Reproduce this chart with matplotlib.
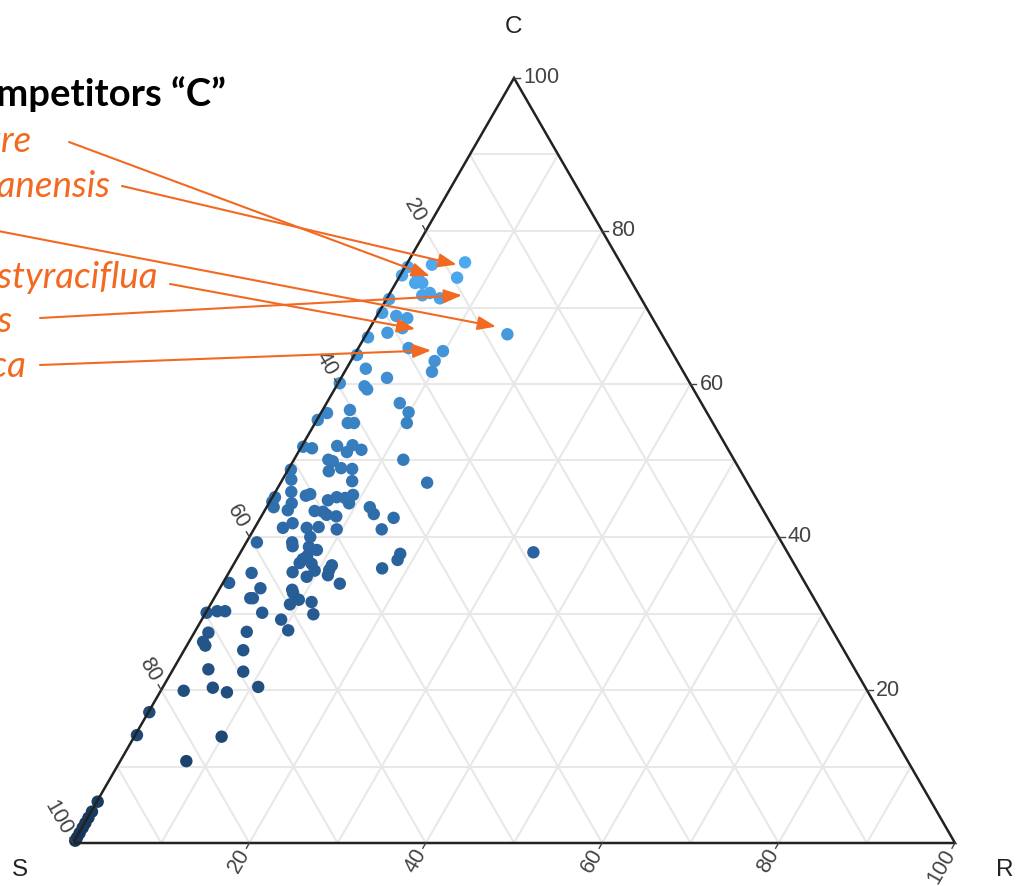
import numpy as np
import matplotlib
matplotlib.use("Agg")
import matplotlib.pyplot as plt
from matplotlib.colors import LinearSegmentedColormap

# ---------------- data (percent) ----------------
C_vals = [75.9, 75.6, 73.9, 75.3, 74.2, 73.2, 73.2, 74.0, 71.6, 71.9, 71.2, 71.1, 66.5,
          68.9, 68.6, 69.3, 66.7, 66.1, 67.3, 64.7, 64.3, 63.0, 61.6, 63.8, 62.0, 60.8,
          60.1, 59.7, 59.3, 56.6, 57.5, 56.3, 54.9, 56.2, 55.3, 54.9, 54.9, 51.9, 51.6,
          51.8, 52.0, 51.1, 51.4, 50.1, 50.1, 49.9, 49.0, 48.9, 48.6, 48.8, 47.1, 47.5,
          47.3, 45.9, 45.4, 45.6, 45.2, 44.6, 43.9, 44.4, 43.5, 44.8, 45.2, 45.1, 44.4,
          45.5, 43.4, 43.3, 42.9, 42.7, 43.9, 43.0, 42.5, 41.0, 41.2, 41.8, 41.2, 41.3,
          41.0, 39.3, 39.3, 38.8, 40.0, 38.7, 38.3, 37.1, 37.5, 36.6, 36.5, 35.4, 35.6,
          36.3, 35.7, 35.0, 34.8, 33.9, 35.9, 37.8, 37.0, 38.0, 35.3, 33.3, 33.1, 32.7,
          31.8, 31.5, 31.2, 32.0, 32.0, 30.1, 29.9, 29.2, 27.8, 34.0, 30.3, 30.3, 30.1,
          27.5, 26.3, 25.8, 27.6, 25.2, 22.7, 22.4, 19.9, 20.3, 19.7, 20.4, 17.1, 14.1,
          13.9, 10.7, 5.4, 4.1, 3.3, 2.6, 2.0, 1.3, 0.7, 0.3]
R_vals = [6.5, 2.9, 6.6, 0.3, 0.2, 2.2, 3.0, 2.1, 3.8, 4.5, 6.0, 0.3, 16.0,
          2.2, 3.6, 0.4, 2.3, 0.4, 3.7, 5.7, 9.8, 9.5, 9.9, 0.3, 2.2, 5.2,
          0.2, 3.2, 3.7, 3.1, 8.3, 9.9, 10.4, 0.7, 0.1, 3.7, 4.4, 4.0, 1.3,
          0.2, 5.7, 5.5, 7.0, 12.4, 3.9, 4.5, 5.9, 7.2, 4.7, 0.3, 16.6, 1.0,
          8.0, 1.8, 3.7, 4.1, 0.3, 0.3, 0.8, 2.6, 2.6, 6.5, 7.3, 8.3, 9.1,
          9.0, 5.7, 6.7, 7.3, 8.5, 11.7, 12.6, 15.1, 14.5, 3.2, 4.0, 5.9, 7.2,
          9.4, 1.2, 5.2, 5.5, 6.9, 7.4, 8.5, 7.5, 7.8, 7.4, 8.8, 7.2, 9.6,
          11.2, 11.2, 11.4, 9.1, 13.3, 17.1, 18.2, 18.3, 33.2, 2.6, 4.6, 8.3, 8.6,
          9.7, 11.3, 9.0, 4.1, 4.4, 6.4, 12.3, 9.0, 10.5, 0.7, 1.2, 2.1, 0.1,
          1.6, 1.6, 2.1, 5.9, 6.7, 4.0, 8.1, 2.6, 5.7, 7.6, 10.8, 0.1, 0.2,
          9.9, 7.5, 0.1, 0.1, 0.1, 0.1, 0.1, 0.1, 0.1, 0.1]

tick_values = [20, 40, 60, 80, 100]
grid_values = [10, 20, 30, 40, 50, 60, 70, 80, 90]
axis_titles = ["C", "S", "R"]

title_text = "Competitors \u201cC\u201d"
species_labels = ["Acer campestre", "Pinus yunnanensis", "Liquidambar styraciflua",
                  "Quercus palustris", "Fagus sylvatica"]
# arrow targets (C %, R %)
arrow_C = [74.1, 75.6, 67.5, 67.2, 71.6, 64.4]
arrow_R = [3.4, 5.7, 14.2, 5.2, 8.3, 8.4]

# ---------------- helpers ----------------
SQ = np.sqrt(3) / 2


def tern(C, R):
    C = np.asarray(C, float) / 100.0
    R = np.asarray(R, float) / 100.0
    return R + C / 2.0, C * SQ


W, H = 1018, 886
fig = plt.figure(figsize=(W / 100, H / 100), dpi=100)
fig.patch.set_facecolor("white")
ax = fig.add_axes([73 / W, (H - 843) / H, 882 / W, 765 / H])
ax.set_xlim(0, 1)
ax.set_ylim(0, SQ)
ax.axis("off")

grid_col = "#e8e8e8"
for v in grid_values:
    x0, y0 = tern(v, 0); x1, y1 = tern(v, 100 - v)
    ax.plot([x0, x1], [y0, y1], color=grid_col, lw=1.5, zorder=1)
    x0, y0 = tern(0, 100 - v); x1, y1 = tern(100 - v, 0)
    ax.plot([x0, x1], [y0, y1], color=grid_col, lw=1.5, zorder=1)
    x0, y0 = tern(0, v); x1, y1 = tern(100 - v, v)
    ax.plot([x0, x1], [y0, y1], color=grid_col, lw=1.5, zorder=1)

# triangle
ax.plot([0, 1, 0.5, 0], [0, 0, SQ, 0], color="#222222", lw=1.8, zorder=4,
        solid_joinstyle="miter", clip_on=False)

px = 1 / 882.0
tick_len = 6 * px
lab_off = 9 * px
tick_col = "#444444"
tfont = dict(family="Liberation Sans", size=15.5, color="#444444")
for v in tick_values:
    x, y = tern(v, 100 - v)
    ax.plot([x, x + tick_len], [y, y], color=tick_col, lw=1, clip_on=False, zorder=4)
    ax.text(x + lab_off, y, str(v), ha="left", va="center", fontdict=tfont, clip_on=False)
    x, y = tern(100 - v, 0)
    d = np.array([-0.5, SQ])
    ax.plot([x, x + d[0] * tick_len], [y, y + d[1] * tick_len], color=tick_col, lw=1,
            clip_on=False, zorder=4)
    ax.text(x + d[0] * (lab_off + 2 * px), y + d[1] * (lab_off + 2 * px), str(v),
            ha="right", va="center", rotation=-60, rotation_mode="anchor",
            fontdict=tfont, clip_on=False)
    x, y = tern(0, v)
    d = np.array([-0.5, -SQ])
    ax.plot([x, x + d[0] * tick_len], [y, y + d[1] * tick_len], color=tick_col, lw=1,
            clip_on=False, zorder=4)
    ax.text(x + d[0] * lab_off, y + d[1] * lab_off, str(v), ha="right", va="center",
            rotation=60, rotation_mode="anchor", fontdict=tfont, clip_on=False)

afont = dict(family="Liberation Sans", size=17.5, color="#222222")
fig.text(513 / W, 1 - 27 / H, axis_titles[0], ha="center", va="center", fontdict=afont)
fig.text(20 / W, 1 - 870 / H, axis_titles[1], ha="center", va="center", fontdict=afont)
fig.text(1005 / W, 1 - 870 / H, axis_titles[2], ha="center", va="center", fontdict=afont)

# points
cmap = LinearSegmentedColormap.from_list("cs", ["#17365a", "#2a64a0", "#4eaaf0"])
xs, ys = tern(C_vals, R_vals)
ax.scatter(xs, ys, s=80, c=np.asarray(C_vals), cmap=cmap, vmin=0, vmax=76,
           linewidths=0, zorder=3, clip_on=False)

# annotations
orange = "#f26a21"
fig.text(226 / W, 1 - 106 / H, title_text, ha="right", va="baseline",
         fontfamily="Lato", fontweight="bold", fontsize=27.5, color="black")
label_ends = [(31, 152), (110, 197), (157, 288), (12, 332), (26, 377)]
for txt, (xe, yb) in zip(species_labels, label_ends):
    fig.text(xe / W, 1 - yb / H, txt, ha="right", va="baseline", fontfamily="Lato",
             fontstyle="italic", fontsize=26.5, color=orange)

arrow_starts = [(69, 142), (122, 186), (-2, 231), (170, 284), (40, 318), (40, 365)]
for (sx, sy), c, r in zip(arrow_starts, arrow_C, arrow_R):
    tx, ty = tern(c, r)
    ax.annotate("", xy=(tx, ty), xycoords="data",
                xytext=(sx / W, 1 - sy / H), textcoords="figure fraction",
                arrowprops=dict(arrowstyle="-|>,head_length=1.1,head_width=0.42",
                                color=orange, lw=1.5, shrinkA=0, shrinkB=0),
                annotation_clip=False, zorder=5)

fig.savefig("out.png", dpi=100)
